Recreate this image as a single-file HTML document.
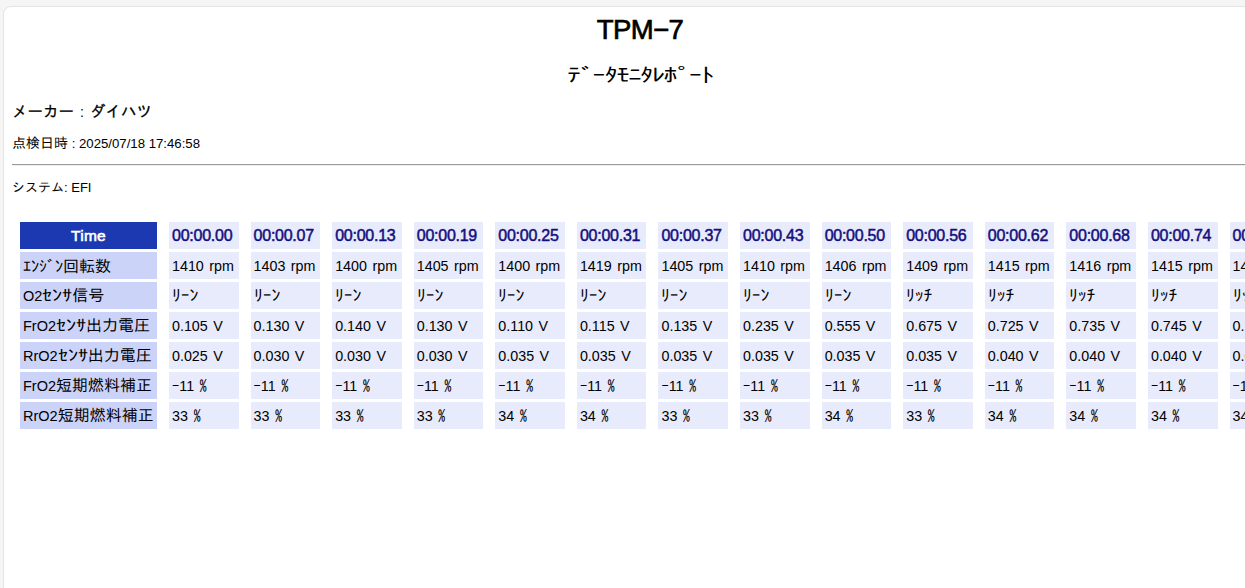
<!DOCTYPE html>
<html lang="ja"><head><meta charset="utf-8"><title>TPM-7 データモニタレポート</title>
<style>
html,body{margin:0;padding:0;}
html,body{background:#f5f5f5;}
body{font-family:"Liberation Sans","IPAGothic","Noto Sans CJK JP",sans-serif;color:#000;}
.page{position:relative;width:1245px;height:588px;overflow:hidden;background:#f5f5f5;}
.card{position:absolute;left:3px;top:6px;width:1400px;height:700px;background:#fff;border:1px solid #e4e4e4;border-radius:8px;box-sizing:border-box;}
h1{position:absolute;left:0;top:14px;width:1280px;margin:0;text-align:center;font-size:27.5px;font-weight:normal;line-height:32px;-webkit-text-stroke:0.7px #000;letter-spacing:-0.6px;}
.sub{position:absolute;left:0;top:62px;width:1280px;text-align:center;font-size:24px;line-height:26px;font-family:"IPAGothic",sans-serif;transform:scale(1.12,0.82);transform-origin:640px 50%;letter-spacing:-1.42px;}
.maker{position:absolute;left:12px;top:101px;font-size:15.5px;font-weight:normal;line-height:20px;font-family:"IPAGothic",sans-serif;-webkit-text-stroke:0.25px #000;}
.maker .c{display:inline-block;width:16px;text-align:center;white-space:pre;font-family:"Liberation Sans",sans-serif;-webkit-text-stroke:0;font-size:14px;}
.date{position:absolute;left:12px;top:135px;font-size:13.2px;line-height:16px;}
.kj{font-family:"IPAGothic",sans-serif;font-size:14px;}
.sys .kj{font-size:13px;}
hr{position:absolute;left:12px;top:164px;width:1300px;margin:0;border:0;border-top:1px solid #9a9a9a;border-bottom:1px solid #eeeeee;height:0;}
.sys{position:absolute;left:12px;top:180px;font-size:13px;line-height:16px;}
table{position:absolute;left:8px;top:219px;border-collapse:separate;border-spacing:12px 3px;table-layout:fixed;width:1303.12px;}
th,td{padding:0 3px;height:27px;box-sizing:border-box;white-space:nowrap;overflow:hidden;text-align:left;font-weight:normal;font-size:14.5px;}
th.lb{font-family:"IPAGothic",sans-serif;font-size:16px;background:#ccd3f8;}
col.l{width:137px;} col.d{width:69.58px;}
th.hd{background:#1c39b1;color:#fff;font-weight:normal;text-align:center;font-size:15.5px;-webkit-text-stroke:0.6px #fff;letter-spacing:0.3px;}
td{background:#e8ebfb;word-spacing:1.5px;font-size:14.3px;}
td.tm{color:#140f80;font-weight:normal;font-size:16px;-webkit-text-stroke:0.5px #140f80;word-spacing:0;letter-spacing:-0.25px;}
.k{font-family:"IPAGothic",sans-serif;font-size:16px;display:inline-block;transform:scaleX(1.1);transform-origin:0 50%;}
.g{font-family:"IPAGothic",sans-serif;font-size:14.5px;}
.la{font-family:"Liberation Sans",sans-serif;font-size:14.5px;}
.ks{display:inline-block;transform:scaleX(1.25);transform-origin:0 50%;margin-right:6px;}

</style></head><body>
<div class="page">
<div class="card"></div>
<h1>TPM&minus;7</h1>
<div class="sub">ﾃﾞｰﾀﾓﾆﾀﾚﾎﾟｰﾄ</div>
<div class="maker">メーカー<span class="c"> : </span>ダイハツ</div>
<div class="date"><span class="kj">点検日時</span> : 2025/07/18 17:46:58</div>
<hr>
<div class="sys"><span class="kj">システム</span>: EFI</div>
<table>
<colgroup><col class="l"><col class="d"><col class="d"><col class="d"><col class="d"><col class="d"><col class="d"><col class="d"><col class="d"><col class="d"><col class="d"><col class="d"><col class="d"><col class="d"><col class="d"></colgroup>
<tr><th class="hd">Time</th><td class="tm">00:00.00</td><td class="tm">00:00.07</td><td class="tm">00:00.13</td><td class="tm">00:00.19</td><td class="tm">00:00.25</td><td class="tm">00:00.31</td><td class="tm">00:00.37</td><td class="tm">00:00.43</td><td class="tm">00:00.50</td><td class="tm">00:00.56</td><td class="tm">00:00.62</td><td class="tm">00:00.68</td><td class="tm">00:00.74</td><td class="tm">00:00.80</td></tr>
<tr><th class="lb">ｴﾝｼﾞﾝ回転数</th><td>1410 rpm</td><td>1403 rpm</td><td>1400 rpm</td><td>1405 rpm</td><td>1400 rpm</td><td>1419 rpm</td><td>1405 rpm</td><td>1410 rpm</td><td>1406 rpm</td><td>1409 rpm</td><td>1415 rpm</td><td>1416 rpm</td><td>1415 rpm</td><td>1418 rpm</td></tr>
<tr><th class="lb"><span class="la">O2</span><span class="ks">ｾﾝｻ</span>信号</th><td><span class="k">ﾘｰﾝ</span></td><td><span class="k">ﾘｰﾝ</span></td><td><span class="k">ﾘｰﾝ</span></td><td><span class="k">ﾘｰﾝ</span></td><td><span class="k">ﾘｰﾝ</span></td><td><span class="k">ﾘｰﾝ</span></td><td><span class="k">ﾘｰﾝ</span></td><td><span class="k">ﾘｰﾝ</span></td><td><span class="k">ﾘｰﾝ</span></td><td><span class="k">ﾘｯﾁ</span></td><td><span class="k">ﾘｯﾁ</span></td><td><span class="k">ﾘｯﾁ</span></td><td><span class="k">ﾘｯﾁ</span></td><td><span class="k">ﾘｯﾁ</span></td></tr>
<tr><th class="lb"><span class="la">FrO2</span><span class="ks">ｾﾝｻ</span>出力電圧</th><td>0.105 V</td><td>0.130 V</td><td>0.140 V</td><td>0.130 V</td><td>0.110 V</td><td>0.115 V</td><td>0.135 V</td><td>0.235 V</td><td>0.555 V</td><td>0.675 V</td><td>0.725 V</td><td>0.735 V</td><td>0.745 V</td><td>0.750 V</td></tr>
<tr><th class="lb"><span class="la">RrO2</span><span class="ks">ｾﾝｻ</span>出力電圧</th><td>0.025 V</td><td>0.030 V</td><td>0.030 V</td><td>0.030 V</td><td>0.035 V</td><td>0.035 V</td><td>0.035 V</td><td>0.035 V</td><td>0.035 V</td><td>0.035 V</td><td>0.040 V</td><td>0.040 V</td><td>0.040 V</td><td>0.040 V</td></tr>
<tr><th class="lb"><span class="la">FrO2</span>短期燃料補正</th><td><span class="g">-</span>11 <span class="g">%</span></td><td><span class="g">-</span>11 <span class="g">%</span></td><td><span class="g">-</span>11 <span class="g">%</span></td><td><span class="g">-</span>11 <span class="g">%</span></td><td><span class="g">-</span>11 <span class="g">%</span></td><td><span class="g">-</span>11 <span class="g">%</span></td><td><span class="g">-</span>11 <span class="g">%</span></td><td><span class="g">-</span>11 <span class="g">%</span></td><td><span class="g">-</span>11 <span class="g">%</span></td><td><span class="g">-</span>11 <span class="g">%</span></td><td><span class="g">-</span>11 <span class="g">%</span></td><td><span class="g">-</span>11 <span class="g">%</span></td><td><span class="g">-</span>11 <span class="g">%</span></td><td><span class="g">-</span>11 <span class="g">%</span></td></tr>
<tr><th class="lb"><span class="la">RrO2</span>短期燃料補正</th><td>33 <span class="g">%</span></td><td>33 <span class="g">%</span></td><td>33 <span class="g">%</span></td><td>33 <span class="g">%</span></td><td>34 <span class="g">%</span></td><td>34 <span class="g">%</span></td><td>33 <span class="g">%</span></td><td>33 <span class="g">%</span></td><td>34 <span class="g">%</span></td><td>33 <span class="g">%</span></td><td>34 <span class="g">%</span></td><td>34 <span class="g">%</span></td><td>34 <span class="g">%</span></td><td>34 <span class="g">%</span></td></tr>
</table>
</div>
</body></html>
